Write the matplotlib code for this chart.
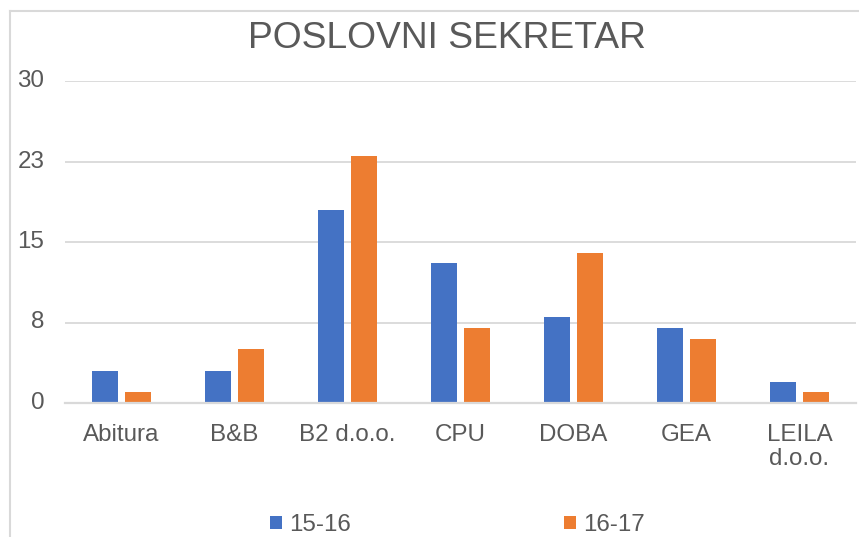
import matplotlib
matplotlib.use("Agg")
import matplotlib.pyplot as plt
from matplotlib.lines import Line2D
import numpy as np

categories = ["Abitura", "B&B", "B2 d.o.o.", "CPU", "DOBA", "GEA", "LEILA\nd.o.o."]
s1516 = [3, 3, 18, 13, 8, 7, 2]
s1617 = [1, 5, 23, 7, 14, 6, 1]
series_names = ["15-16", "16-17"]
yticks = [0, 7.5, 15, 22.5, 30]
ytick_labels = ["0", "8", "15", "23", "30"]
title = "POSLOVNI SEKRETAR"

plt.rcParams['font.family'] = ['Liberation Sans', 'DejaVu Sans']
text_color = "#595959"
grid_color = "#D9D9D9"
blue = "#4472C4"
orange = "#ED7D31"

W, H = 859, 537
fig = plt.figure(figsize=(W / 100, H / 100), dpi=100)
ax = fig.add_axes([65 / W, 1 - 403 / H, 791 / W, 322 / H])

x = np.arange(len(categories))
bw = 0.23
off = 0.142
b1 = ax.bar(x - off, s1516, bw, color=blue, label=series_names[0], zorder=3)
b2 = ax.bar(x + off, s1617, bw, color=orange, label=series_names[1], zorder=3)

ax.set_xlim(-0.5, len(categories) - 0.5)
ax.set_ylim(0, 30)
ax.set_yticks(yticks)
ax.set_yticklabels(ytick_labels)
ax.set_xticks(x)
ax.set_xticklabels(categories, linespacing=1.15)
ax.tick_params(axis='both', length=0, labelsize=17.4, labelcolor=text_color)
ax.tick_params(axis='y', pad=15)
ax.tick_params(axis='x', pad=15)
for lab in ax.get_yticklabels():
    lab.set_verticalalignment('center')
ax.grid(axis='y', color=grid_color, linewidth=1.3, zorder=0)
for s in ["top", "right", "left"]:
    ax.spines[s].set_visible(False)
ax.spines["bottom"].set_color(grid_color)
ax.spines["bottom"].set_linewidth(1.6)
ax.spines["bottom"].set_zorder(4)

fig.text(447 / W, 1 - 39 / H, title, ha='center', va='center', fontsize=26.8, color=text_color)

# chart area border (partially visible)
fig.add_artist(Line2D([10 / W, 10 / W], [0, 1 - 11 / H], transform=fig.transFigure,
                      color=grid_color, linewidth=1.5))
fig.add_artist(Line2D([10 / W, 1], [1 - 11 / H, 1 - 11 / H], transform=fig.transFigure,
                      color=grid_color, linewidth=1.5))

leg = fig.legend(handles=[b1, b2], labels=series_names, ncol=2, frameon=False,
                 loc='center left', bbox_to_anchor=(270 / W, 1 - 525 / H),
                 fontsize=17.4, handlelength=0.5, handleheight=0.5,
                 handletextpad=0.3, columnspacing=8.8, borderpad=0, borderaxespad=0)
for t in leg.get_texts():
    t.set_color(text_color)

fig.savefig("out.png", dpi=100)
